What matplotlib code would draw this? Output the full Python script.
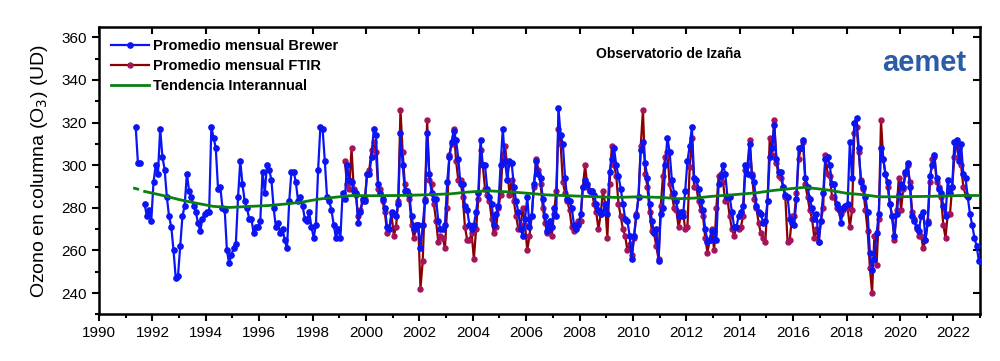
import numpy as np
import pandas as pd
import matplotlib
matplotlib.use('Agg')
import matplotlib.pyplot as plt
from matplotlib.ticker import MultipleLocator

plt.rcParams['font.family'] = ['Liberation Sans', 'DejaVu Sans']

nan = np.nan

# Brewer monthly means (DU), Jan..Dec per row, 1991-2022
brewer_values = [
    nan, nan, nan, nan, 318, 301, 301, nan, 282, 276, 279, 274,   # 1991
    292, 300, 296, 317, 304, 298, 285, 276, 271, 260, 247, 248,   # 1992
    262, 276, 281, 296, 288, 285, 281, 278, 273, 269, 275, 277,   # 1993
    278, 278, 318, 313, 308, 289, 290, 280, 279, 260, 254, 258,   # 1994
    261, 263, 285, 302, 291, 283, 280, 275, 275, 268, 271, 271,   # 1995
    274, 297, 287, 300, 298, 293, 280, 271, 273, 268, 270, 265,   # 1996
    261, 283, 297, 297, 292, 283, 285, 281, 275, 274, 278, 271,   # 1997
    266, 272, 298, 318, 317, 302, 285, 283, 279, 272, 266, 270,   # 1998
    266, 287, 284, 300, 293, 292, 288, 287, 273, 278, 284, 283,   # 1999
    296, 296, 304, 317, 314, 291, 287, 284, 280, 271, 270, 278,   # 2000
    277, 276, 282, 315, 300, 288, 288, 286, 276, 270, 272, 272,   # 2001
    261, 272, 283, 315, 296, 287, 284, 284, 274, 270, 270, 272,   # 2002
    292, 304, 311, 316, 312, 303, 291, 291, 281, 279, 272, 270,   # 2003
    272, 278, 287, 312, 300, 300, 289, 285, 282, 272, 277, 281,   # 2004
    300, 317, 302, 293, 302, 301, 290, 283, 278, 270, 267, 275,   # 2005
    285, 271, 276, 291, 302, 296, 294, 284, 276, 269, 274, 271,   # 2006
    280, 276, 327, 314, 310, 294, 284, 283, 280, 272, 270, 272,   # 2007
    277, 290, 293, 291, 288, 288, 286, 282, 279, 277, 278, 282,   # 2008
    277, 297, 303, 308, 300, 295, 289, 282, 275, 274, 267, 256,   # 2009
    267, 276, 285, 307, 311, 301, 294, 282, 274, 268, 270, 255,   # 2010
    277, 280, 300, 313, 306, 293, 287, 283, 276, 278, 276, 288,   # 2011
    302, 309, 318, 294, 293, 289, 283, 279, 270, 264, 265, 269,   # 2012
    269, 265, 291, 295, 300, 296, 285, 285, 278, 271, 271, 276,   # 2013
    278, 281, 300, 296, 310, 295, 292, 281, 278, 277, 273, 274,   # 2014
    283, 304, 308, 319, 303, 297, 297, 290, 286, 285, 275, 273,   # 2015
    272, 284, 308, 308, 312, 294, 290, 284, 280, 275, 277, 264,   # 2016
    274, 287, 303, 304, 300, 291, 291, 282, 280, 273, 280, 281,   # 2017
    282, 311, 294, 320, 322, 308, 292, 290, 285, 278, 259, 251,   # 2018
    256, 268, 277, 308, 303, 296, 292, 282, 276, 267, 277, 286,   # 2019
    291, 290, 297, 301, 290, 276, 274, 271, 269, 276, 278, 265,   # 2020
    273, 295, 300, 305, 294, 289, 287, 281, 276, 293, 287, 290,   # 2021
    311, 312, 302, 310, 296, 294, 285, 277, 272, 266, 262, 255,   # 2022
]

# FTIR monthly means (DU), Jan..Dec per row, 1999-2022
ftir_values = [
    nan, nan, 302, 291, 289, 308, 289, 286, 276, 279, 283, 284,   # 1999
    296, 298, 307, 311, 306, 289, 289, 283, 278, 268, 270, 277,   # 2000
    267, 271, 283, 326, 306, 291, 288, 284, 272, 266, 270, 272,   # 2001
    242, 255, 284, 321, 293, 291, 282, 274, 264, 267, 266, 261,   # 2002
    280, 305, 310, 317, 302, 293, 293, 285, 271, 265, 265, 268,   # 2003
    256, 270, 284, 307, 300, 289, 286, 283, 275, 268, 271, 280,   # 2004
    286, 305, 309, 300, 286, 293, 283, 276, 270, 272, 280, 272,   # 2005
    260, 267, 276, 290, 303, 298, 291, 280, 273, 268, 272, 267,   # 2006
    277, 288, 317, 310, 292, 287, 283, 279, 271, 269, 272, 274,   # 2007
    274, 290, 300, 290, 288, 288, 282, 278, 270, 277, 288, 282,   # 2008
    266, 291, 309, 300, 295, 282, 276, 270, 267, 260, 263, 258,   # 2009
    266, 277, 285, 309, 326, 296, 290, 278, 269, 268, 262, 256,   # 2010
    281, 295, 304, 306, 291, 286, 280, 279, 271, 276, 278, 270,   # 2011
    271, 299, 313, 290, 290, 283, 279, 276, 266, 259, 265, 270,   # 2012
    260, 280, 295, 296, 292, 283, 284, 276, 270, 267, 271, 270,   # 2013
    271, 276, 298, 300, 312, 296, 284, 280, 273, 268, 266, 264,   # 2014
    283, 313, 305, 321, 301, 295, 294, 290, 285, 264, 265, 276,   # 2015
    276, 287, 303, 308, 311, 291, 285, 279, 275, 266, 270, 264,   # 2016
    274, 280, 305, 296, 295, 285, 285, 280, 279, 277, 279, 281,   # 2017
    280, 271, 279, 315, 318, 306, 293, 289, 279, 269, 252, 240,   # 2018
    267, 253, 275, 321, 303, 296, 290, 282, 276, 265, 279, 294,   # 2019
    279, 289, 296, 300, 292, 278, 275, 270, 267, 267, 261, 265,   # 2020
    274, 292, 303, 304, 292, 290, 285, 272, 266, 277, 277, 290,   # 2021
    304, 310, 308, 300, 290, 286, nan, nan, nan, nan, nan, nan,   # 2022
]

# Interannual trend (decimal year, DU)
trend_years = [1991.33, 1991.45, 1991.55, 1991.71, 1992.4, 1993.03, 1993.65, 1994.28,
               1994.9, 1995.65, 1996.35, 1996.98, 1997.6, 1998.23, 1998.85, 1999.48,
               2000.23, 2001.18, 2002.18, 2003.18, 2003.8, 2004.55, 2005.5, 2006.12,
               2006.75, 2007.37, 2008.0, 2008.62, 2009.37, 2010.2, 2011.07, 2011.7,
               2012.32, 2012.95, 2013.7, 2014.65, 2015.27, 2015.9, 2016.4, 2016.9,
               2017.4, 2018.02, 2018.52, 2019.22, 2019.85, 2021.1, 2022.35, 2023.0]
trend_values = [289.2, 288.8, nan, 287.7, 285.8, 283.8, 282.2, 280.7,
                280.2, 280.7, 281.1, 281.8, 282.7, 284.1, 285.0, 285.8,
                285.7, 285.8, 286.1, 286.6, 287.4, 288.0, 287.4, 286.8,
                286.1, 285.8, 285.5, 285.2, 284.9, 285.2, 284.9, 284.3,
                284.6, 285.4, 286.1, 287.1, 288.2, 289.0, 289.6, 289.0,
                288.2, 286.8, 286.3, 285.2, 285.2, 285.4, 285.8, 285.8]

# monthly dates as decimal years (mid-month)
brewer_x = np.repeat(np.arange(1991, 2023), 12) + (np.tile(np.arange(12), 32) + 0.5) / 12
ftir_x = np.repeat(np.arange(1999, 2023), 12) + (np.tile(np.arange(12), 24) + 0.5) / 12
brewer = pd.Series(brewer_values, index=brewer_x)
ftir = pd.Series(ftir_values, index=ftir_x)

fig = plt.figure(figsize=(10, 3.61), dpi=100)
ax = fig.add_axes([0.099, 0.129, 0.881, 0.797])

ax.plot(brewer.index, brewer.values, color='#0a14f5', lw=1.6, marker='o', ms=3.8,
        mec='#0a14f5', mfc='#0a14f5', zorder=3, label='Promedio mensual Brewer')
ax.plot(ftir.index, ftir.values, color='#8b0000', lw=1.6, marker='o', ms=3.6,
        mec='#a3145c', mfc='#a3145c', zorder=2, label='Promedio mensual FTIR')
ax.plot(trend_years, trend_values, color='#0a8010', lw=2, zorder=4,
        label='Tendencia Interannual')

ax.set_xlim(1990, 2023)
ax.set_ylim(230, 365)
ax.xaxis.set_major_locator(MultipleLocator(2))
ax.xaxis.set_minor_locator(MultipleLocator(1))
ax.yaxis.set_major_locator(MultipleLocator(20))
ax.yaxis.set_minor_locator(MultipleLocator(10))
ax.tick_params(which='both', direction='out', width=1.5, labelsize=11)
ax.tick_params(which='major', length=5)
ax.tick_params(which='minor', length=3)
for s in ax.spines.values():
    s.set_linewidth(1.8)

# inward major ticks on top and right
top = ax.secondary_xaxis('top')
top.set_xticks(np.arange(1990, 2024, 2))
top.tick_params(direction='in', length=5, width=1.5, labeltop=False)
right = ax.secondary_yaxis('right')
right.set_yticks(np.arange(240, 361, 20))
right.tick_params(direction='in', length=5, width=1.5, labelright=False)

ax.set_ylabel('Ozono en columna (O$_3$) (UD)', fontsize=14)
ax.yaxis.set_label_coords(-0.056, 0.5)

leg = ax.legend(loc='upper left', frameon=False, handlelength=2.6,
                handletextpad=0.25, labelspacing=0.42, borderaxespad=0.55,
                borderpad=0.3, prop={'weight': 'bold', 'size': 10.5})

ax.text(0.646, 0.905, 'Observatorio de Izaña', transform=ax.transAxes,
        ha='center', va='center', fontsize=10, fontweight='bold')
ax.text(0.984, 0.875, 'aemet', transform=ax.transAxes, ha='right', va='center',
        fontsize=21, fontweight='bold', color='#2b5ca8')

fig.savefig('out.png', dpi=100)
